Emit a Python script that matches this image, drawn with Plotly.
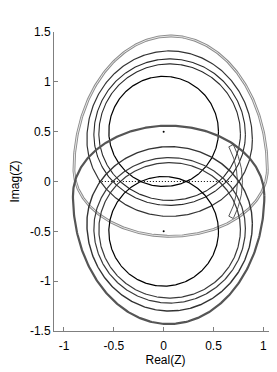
import numpy as np
import plotly.graph_objects as go

# Closed egg-shaped loci of the upper family (centred near Imag = +0.5)
# each: centre x, y of widest point, half-width, top y, bottom y
up_cx = [0.0, 0.06, 0.06, 0.06, 0.07]
up_yw = [0.5, 0.48, 0.47, 0.42, 0.12]
up_w = [0.55, 0.71, 0.76, 0.83, 0.97]
up_top = [1.055, 1.18, 1.23, 1.31, 1.46]
up_bot = [-0.05, -0.19, -0.24, -0.35, -0.55]

# Lower family (mirror image, centred near Imag = -0.5)
lo_cx = [0.0, 0.06, 0.06, 0.06, 0.05]
lo_yw = [-0.5, -0.48, -0.47, -0.42, -0.14]
lo_w = [0.55, 0.71, 0.76, 0.83, 0.96]
lo_top = [0.05, 0.19, 0.24, 0.35, 0.56]
lo_bot = [-1.05, -1.17, -1.22, -1.30, -1.43]

# narrow band on the right (arc radii about the origin, half-angle in degrees)
band_r = [0.74, 0.79]
band_half_deg = 28

# dotted segment on the real axis, and the two centre points
dot_x = [-0.65, 0.70]
dot_y = [0.0, 0.0]
centre_x = [0.0, 0.0]
centre_y = [0.5, -0.5]

x_ticks = [-1, -0.5, 0, 0.5, 1]
x_ticklabels = ["-1", "-0.5", "0", "0.5", "1"]
y_ticks = [1.5, 1, 0.5, 0, -0.5, -1, -1.5]
y_ticklabels = ["1.5", "1", "0.5", "0", "-0.5", "-1", "-1.5"]


def egg(cx, yw, w, top, bot, n=400):
    t = np.linspace(0, 2 * np.pi, n)
    x = cx + w * np.cos(t)
    s = np.sin(t)
    y = np.where(s >= 0, yw + (top - yw) * s, yw + (yw - bot) * s)
    return x, y


fig = go.Figure()

styles_up = [
    dict(color="#000000", width=1.2),
    dict(color="#2a2a2a", width=1.1),
    dict(color="#2a2a2a", width=1.1),
    dict(color="#333333", width=1.2),
    None,
]
styles_lo = [
    dict(color="#000000", width=1.2),
    dict(color="#3a3a3a", width=1.2),
    dict(color="#3a3a3a", width=1.2),
    dict(color="#333333", width=1.4),
    dict(color="#555555", width=2.2),
]

for i in range(5):
    x, y = egg(up_cx[i], up_yw[i], up_w[i], up_top[i], up_bot[i])
    if styles_up[i] is None:
        fig.add_trace(go.Scatter(x=x, y=y, mode="lines", line=dict(color="#8c8c8c", width=2.8),
                                 hoverinfo="skip", showlegend=False))
        fig.add_trace(go.Scatter(x=x, y=y, mode="lines", line=dict(color="#ffffff", width=0.8),
                                 hoverinfo="skip", showlegend=False))
    else:
        fig.add_trace(go.Scatter(x=x, y=y, mode="lines", line=styles_up[i],
                                 hoverinfo="skip", showlegend=False))

for i in range(5):
    x, y = egg(lo_cx[i], lo_yw[i], lo_w[i], lo_top[i], lo_bot[i])
    fig.add_trace(go.Scatter(x=x, y=y, mode="lines", line=styles_lo[i],
                             hoverinfo="skip", showlegend=False))

# right-hand band
a = np.radians(np.linspace(-band_half_deg, band_half_deg, 60))
bx = np.concatenate([band_r[0] * np.cos(a), band_r[1] * np.cos(a[::-1]), [band_r[0] * np.cos(a[0])]])
by = np.concatenate([band_r[0] * np.sin(a), band_r[1] * np.sin(a[::-1]), [band_r[0] * np.sin(a[0])]])
fig.add_trace(go.Scatter(x=bx, y=by, mode="lines", line=dict(color="#444444", width=0.9),
                         hoverinfo="skip", showlegend=False))

fig.add_trace(go.Scatter(x=dot_x, y=dot_y, mode="lines",
                         line=dict(color="#000000", width=1, dash="1px,2px"),
                         hoverinfo="skip", showlegend=False))
fig.add_trace(go.Scatter(x=centre_x, y=centre_y, mode="markers", marker=dict(color="#000000", size=2),
                         hoverinfo="skip", showlegend=False))

axis_common = dict(
    showgrid=False, zeroline=False, showline=True, linecolor="#7f7f7f", linewidth=1,
    ticks="inside", ticklen=4, tickcolor="#7f7f7f", automargin=False,
    tickfont=dict(family="Liberation Sans, Arial, sans-serif", size=12, color="#000000"),
    title_font=dict(family="Liberation Sans, Arial, sans-serif", size=12, color="#000000"),
)

# the page body has an 8px margin, so the figure is offset by 8px in the window
fig.update_layout(
    width=269, height=364,
    margin=dict(l=46, r=0, t=24, b=41, autoexpand=False),
    paper_bgcolor="#ffffff", plot_bgcolor="#ffffff",
    xaxis=dict(range=[-1.1, 1.137], tickvals=x_ticks, ticktext=x_ticklabels,
               ticklabelstandoff=4,
               title=dict(text="Real(Z)", standoff=2), **axis_common),
    yaxis=dict(range=[-1.5, 1.5], tickvals=y_ticks, ticktext=y_ticklabels,
               title=dict(text="Imag(Z)", standoff=20), **axis_common),
)

fig.write_html("out.html")
